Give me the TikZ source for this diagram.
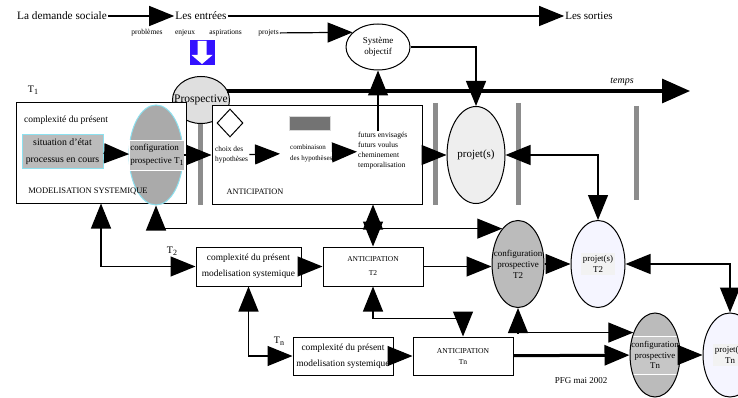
\documentclass[tikz,border=0pt]{standalone}
\usepackage{fontspec}
\setmainfont{Liberation Serif}
\usetikzlibrary{shapes.geometric, arrows.meta, positioning}
\definecolor{lav}{RGB}{245,245,255}
\definecolor{lcyan}{RGB}{140,225,240}
\definecolor{bluesq}{RGB}{51,17,255}
\newcommand{\fsz}[2]{\fontsize{#1}{#2}\selectfont}
\newcommand{\lowidx}[1]{\raisebox{-2pt}{\fsz{8}{8}#1}}

\begin{document}
\begin{tikzpicture}[x=1pt, y=-1pt,
  box/.style={rectangle, draw, line width=1pt, fill=white, inner sep=1pt},
  oval/.style={ellipse, draw, line width=1pt, inner sep=0pt},
  txt/.style={inner sep=1pt, align=left},
  timebar/.style={line width=5pt, draw=gray!90},
  arrow/.style={-{Triangle[length=25pt,width=20pt]}, line width=1.2pt},
  dblarrow/.style={{Triangle[length=25pt,width=20pt]}-{Triangle[length=25pt,width=20pt]}, line width=1.2pt},
  timearrow/.style={-{Triangle[length=28pt,width=24pt]}, line width=3.2pt}
]
\clip (0,0) rectangle (738,398);

% entrees / sorties
\node[txt, font=\fsz{11.3}{13}] (demande) at (62,16) {La demande sociale};
\node[txt, font=\fsz{11.3}{13}] (entrees) at (201,16) {Les entrées};
\node[txt, font=\fsz{11}{13}] (sorties) at (589,16) {Les sorties};
\node[txt, font=\fsz{7.5}{9}] (problemes) at (147,33) {problèmes};
\node[txt, font=\fsz{7.5}{9}, right=10pt of problemes] (enjeux) {enjeux};
\node[txt, font=\fsz{7.5}{9}, right=12pt of enjeux] (aspirations) {aspirations};
\node[txt, font=\fsz{7.5}{9}, right=14pt of aspirations] (projets) {projets};
\node[oval, fill=white, minimum width=64pt, minimum height=46pt, align=center, font=\fsz{9}{11}] (systeme) at (378,47) {Système\\objectif};

\node[rectangle, fill=bluesq, minimum size=25pt, inner sep=0pt] (entree) at (202,53) {};
\fill[white, shift={(entree.center)}] (-4.5,-12) -- (4.5,-12) -- (4.5,2) -- (10.5,2) -- (0,11) -- (-10.5,2) -- (-4.5,2) -- cycle;

% barres du temps
\foreach \x/\a/\b in {200/123/205, 435/103/205, 518/103/205, 636/106/200}
  \draw[timebar] (\x,\a) -- (\x,\b);

\node[oval, fill=gray!25, minimum width=57pt, minimum height=47pt,
  label={[font=\fsz{11.5}{13}]center:Prospective}] (prosp) at (201,100) {};
\node[txt, font=\fsz{10}{12}] (t1) at (33,90) {T\lowidx{1}};
\coordinate (tempsend) at (690,91);
\node[txt, font=\fsz{10}{12}\itshape] (temps) at (622,82) {temps};

% T1
\node[box, minimum width=170pt, minimum height=100pt] (modsys) at (101,153) {};
\node[txt, font=\fsz{9.5}{11}, anchor=west] (cplx1) at (23,120) {complexité du présent};
\node[rectangle, draw=lcyan, line width=1pt, fill=gray!53, minimum width=81pt, minimum height=34pt,
  align=center, font=\fsz{9.8}{17}, inner sep=0pt] (situation) at (62.5,152) {situation d’état\\processus en cours};
\node[oval, draw=lcyan, fill=gray!67, minimum width=54pt, minimum height=100pt] (ct1) at (156,155) {};
\node[rectangle, draw=white, fill=gray!53, minimum width=55pt, minimum height=30pt, align=left,
  font=\fsz{9}{12.5}, inner sep=1pt] (ct1txt) at (157,155) {configuration\\prospective T\lowidx{1}};
\node[txt, font=\fsz{8.5}{10}] (modlbl) at (88,191) {MODELISATION SYSTEMIQUE};

\node[box, minimum width=210pt, minimum height=98pt] (antic) at (317,155) {};
\node[diamond, draw, line width=1pt, minimum width=26pt, minimum height=28pt, inner sep=0pt] (choixicon) at (230,123) {};
\node[rectangle, draw=gray!30, line width=1pt, fill=black!55, minimum width=41pt, minimum height=14pt, inner sep=0pt] (combicon) at (310,124) {};
\node[txt, font=\fsz{7.4}{10}, anchor=west] (choix) at (214,155) {choix des\\hypothèses};
\node[txt, font=\fsz{7}{11}, anchor=west] (combi) at (289,153) {combinaison\\des hypothèses};
\node[txt, font=\fsz{7.6}{10}, anchor=west] (futurs) at (357,151) {futurs envisagés\\futurs voulus\\cheminement\\temporalisation};
\node[txt, font=\fsz{8.3}{10}] (anticlbl) at (255,192) {ANTICIPATION};
\node[oval, fill=gray!13, minimum width=58pt, minimum height=97pt, font=\fsz{11}{13}] (projet) at (476,155) {projet(s)};

% T2
\node[txt, font=\fsz{10}{12}] (t2) at (172,251) {T\lowidx{2}};
\node[box, minimum width=105pt, minimum height=39pt, align=center, font=\fsz{9.4}{16}] (cx2) at (248.5,266.5) {complexité du présent\\modelisation systemique};
\node[box, minimum width=100pt, minimum height=39pt, align=center, font=\fsz{7.5}{14}] (ant2) at (373,266.5) {ANTICIPATION\\T2};
\node[oval, fill=gray!53, minimum width=52pt, minimum height=87pt,
  label={[align=center, font=\fsz{9}{11}]center:{configuration\\prospective\\T2}}] (ct2) at (518,264) {};
\node[oval, fill=lav, minimum width=54pt, minimum height=87pt,
  label={[fill=gray!10, inner sep=2pt, align=center, font=\fsz{8.9}{11}]center:{projet(s)\\T2}}] (proj2) at (598,264) {};

% Tn
\node[txt, font=\fsz{10}{12}] (tn) at (279,341) {T\lowidx{n}};
\node[box, minimum width=100pt, minimum height=38pt, align=center, font=\fsz{9.4}{16}] (cxn) at (343,356) {complexité du présent\\modelisation systemique};
\node[box, minimum width=100pt, minimum height=38pt, align=center, font=\fsz{7.6}{11}] (antn) at (463,356) {ANTICIPATION\\Tn};
\node[oval, fill=gray!53, minimum width=50pt, minimum height=84pt,
  path picture={\node[rectangle, draw=white, fill=gray!45, minimum width=60pt, minimum height=38pt, align=center,
    font=\fsz{8.8}{10.5}, inner sep=0pt] at (path picture bounding box.center) {configuration\\prospective\\Tn};}] (ctn) at (655,355) {};
\node[oval, fill=lav, minimum width=54pt, minimum height=84pt,
  label={[fill=gray!10, inner sep=2pt, align=center, font=\fsz{8.9}{11}]center:{projet(s)\\Tn}}] (projn) at (730,355) {};
\node[txt, font=\fsz{9}{11}] (pfg) at (581,381) {PFG mai 2002};

% connecteurs
\draw[arrow] (demande) -- (entrees);
\draw[arrow] (entrees) -- (sorties);
\draw[arrow] (projets) -- (systeme.150);
\draw[arrow] (systeme.east) -| (projet.north);
\draw[timearrow, shorten <=-3pt] (prosp.east |- tempsend) -- (tempsend);
\draw[arrow] (situation) -- (ct1txt);
\draw[arrow] (ct1.east) -- (ct1.east -| antic.west);
\draw[arrow, shorten >=9pt] (choix) -- (combi);
\draw[arrow] (combi) -- (futurs);
\draw[arrow] (systeme.south |- futurs.north) -- (systeme.south);
\draw[arrow] (antic) -- (projet);
\draw[dblarrow] (projet.east) -| (proj2.north);

\draw[dblarrow] (modsys.south) |- (cx2.west);
\draw[dblarrow] (ct1.south) |- (ct2.114);
\draw[dblarrow] (ant2.north) -- (ant2.north |- antic.south);
\draw[arrow] (cx2) -- (ant2);
\draw[arrow] (ant2.east) -- (ant2.east -| ct2.west);
\draw[arrow] (ct2) -- (proj2);
\draw[dblarrow] (proj2.east) -| (projn.north);

\draw[dblarrow] (cx2.south) |- (cxn.west);
\draw[dblarrow] (ant2.south) -- ++(0,32) -| (antn.north);
\draw[dblarrow] (ct2.south) |- (ctn.134);
\draw[arrow] (cxn) -- (antn);
\draw[arrow, line width=3pt] (antn) -- (ctn);
\draw[arrow] (ctn) -- (projn);
\end{tikzpicture}
\end{document}
